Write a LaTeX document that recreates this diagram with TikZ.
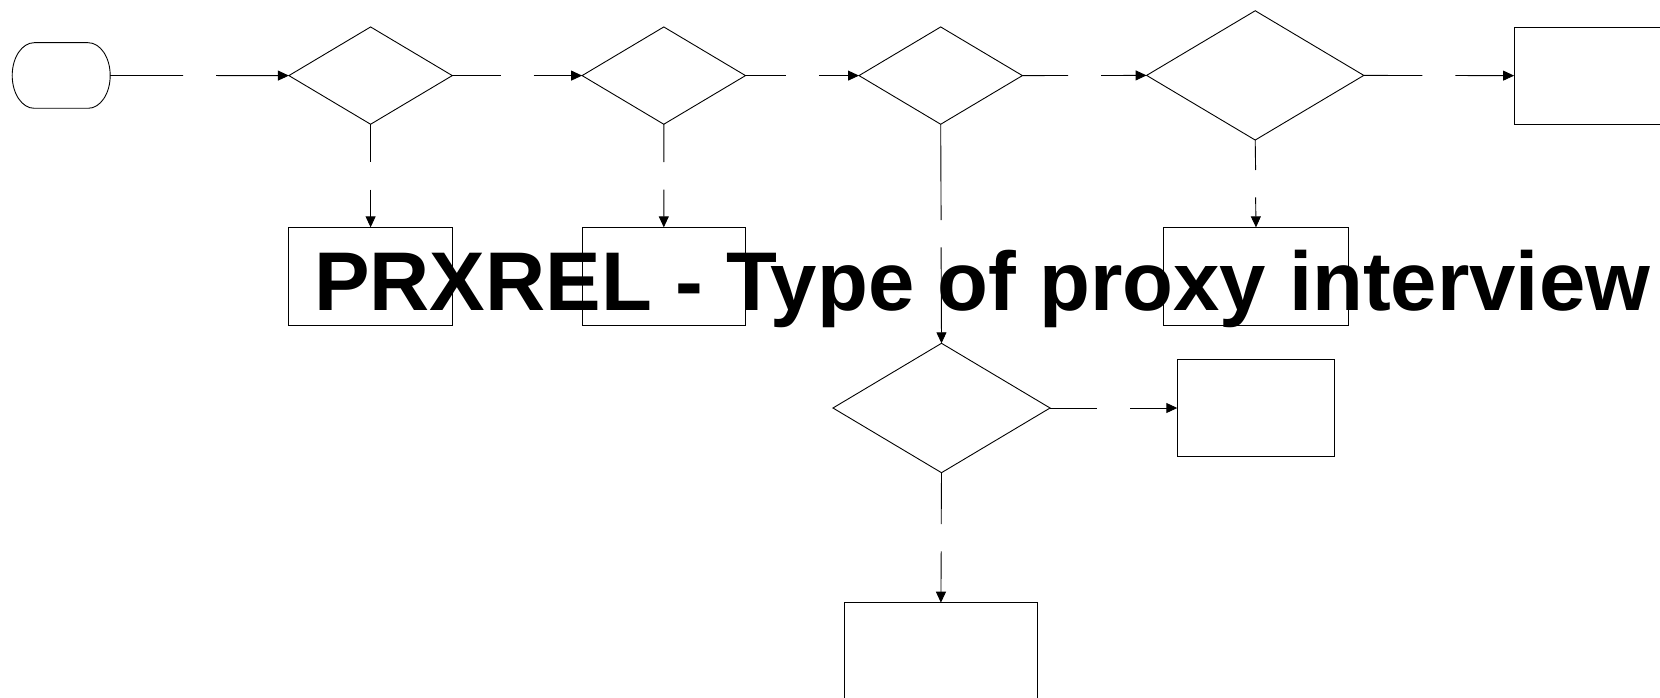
\documentclass[tikz,border=0pt]{standalone}
\usepackage{fontspec}
\setmainfont{Liberation Sans}
\usetikzlibrary{shapes.geometric,arrows.meta,calc}
\tikzset{
  conn/.style={draw=black, line width=0.9pt},
  arr/.style={conn, -{Triangle[length=11pt,width=10pt]}},
  decision/.style={diamond, draw=black, line width=0.9pt, inner sep=0pt, outer sep=0pt},
  procbox/.style={rectangle, draw=black, line width=0.9pt, inner sep=0pt, outer sep=0pt},
}
\newcommand\myhconn[3]{%
  \coordinate (#3) at ($(#1)!0.5!(#2)$);
  \draw[conn] (#1) -- ([xshift=-16.5pt]#3);
  \draw[arr] ([xshift=16.5pt]#3) -- (#2);}
\newcommand\myvconn[3]{%
  \coordinate (#3) at ($(#1)!0.5!(#2)$);
  \draw[conn] (#1) -- ([yshift=13.7pt]#3);
  \draw[arr] ([yshift=-13.7pt]#3) -- (#2);}
\begin{document}
\begin{tikzpicture}[x=1pt,y=-1pt]
\useasboundingbox (0,0) rectangle (1660,698);
\clip (0,0) rectangle (1660,698);
% terminal
\node[draw=none, minimum width=98pt, minimum height=65.6pt, inner sep=0pt, outer sep=0pt] (term) at (61.2,75.5) {};
\draw[conn] ([xshift=22pt]term.north west) -- ([xshift=-22pt]term.north east)
  arc[start angle=90, end angle=-90, x radius=22pt, y radius=32.8pt]
  -- ([xshift=22pt]term.south west)
  arc[start angle=270, end angle=90, x radius=22pt, y radius=32.8pt] -- cycle;
% decisions
\node[decision, minimum width=163.4pt, minimum height=97.3pt] (d1) at (370.6,75.6) {};
\node[decision, minimum width=163.4pt, minimum height=97.3pt] (d2) at (663.8,75.6) {};
\node[decision, minimum width=163.4pt, minimum height=97.3pt] (d3) at (940.7,75.6) {};
\node[decision, minimum width=217.2pt, minimum height=129.3pt] (d4) at (1255.2,75.4) {};
\node[decision, minimum width=217.1pt, minimum height=129.4pt] (d5) at (941.5,408) {};
% boxes
\node[procbox, minimum width=163.4pt, minimum height=97.7pt] (b1) at (370.6,276.2) {};
\node[procbox, minimum width=163.4pt, minimum height=97.7pt] (b2) at (663.8,276.2) {};
\node[procbox, minimum width=184.9pt, minimum height=97.7pt] (b4) at (1256,276.2) {};
\node[procbox, minimum width=185pt, minimum height=97.3pt] (bTR) at (1606.6,75.65) {};
\node[procbox, minimum width=156.8pt, minimum height=97.4pt] (b5) at (1255.7,408) {};
\node[procbox, minimum width=192.4pt, minimum height=120pt] (b6) at (940.9,662.7) {};
% connectors
\myhconn{term.east}{d1.west}{m1}
\myvconn{d1.south}{b1.north}{m2}
\myhconn{d1.east}{d2.west}{m3}
\myvconn{d2.south}{b2.north}{m4}
\myhconn{d2.east}{d3.west}{m5}
\myvconn{d3.south}{d5.north}{m6}
\myhconn{d3.east}{d4.west}{m7}
\myhconn{d4.east}{bTR.west}{m8}
\myvconn{d4.south}{b4.north}{m9}
\myhconn{d5.east}{b5.west}{m10}
\myvconn{d5.south}{b6.north}{m11}
% title
\node[anchor=base west, inner sep=0pt, font=\fontsize{83.3}{90}\selectfont\bfseries] (title) at (314,310) {PRXREL - Type of proxy interview};
\end{tikzpicture}
\end{document}
